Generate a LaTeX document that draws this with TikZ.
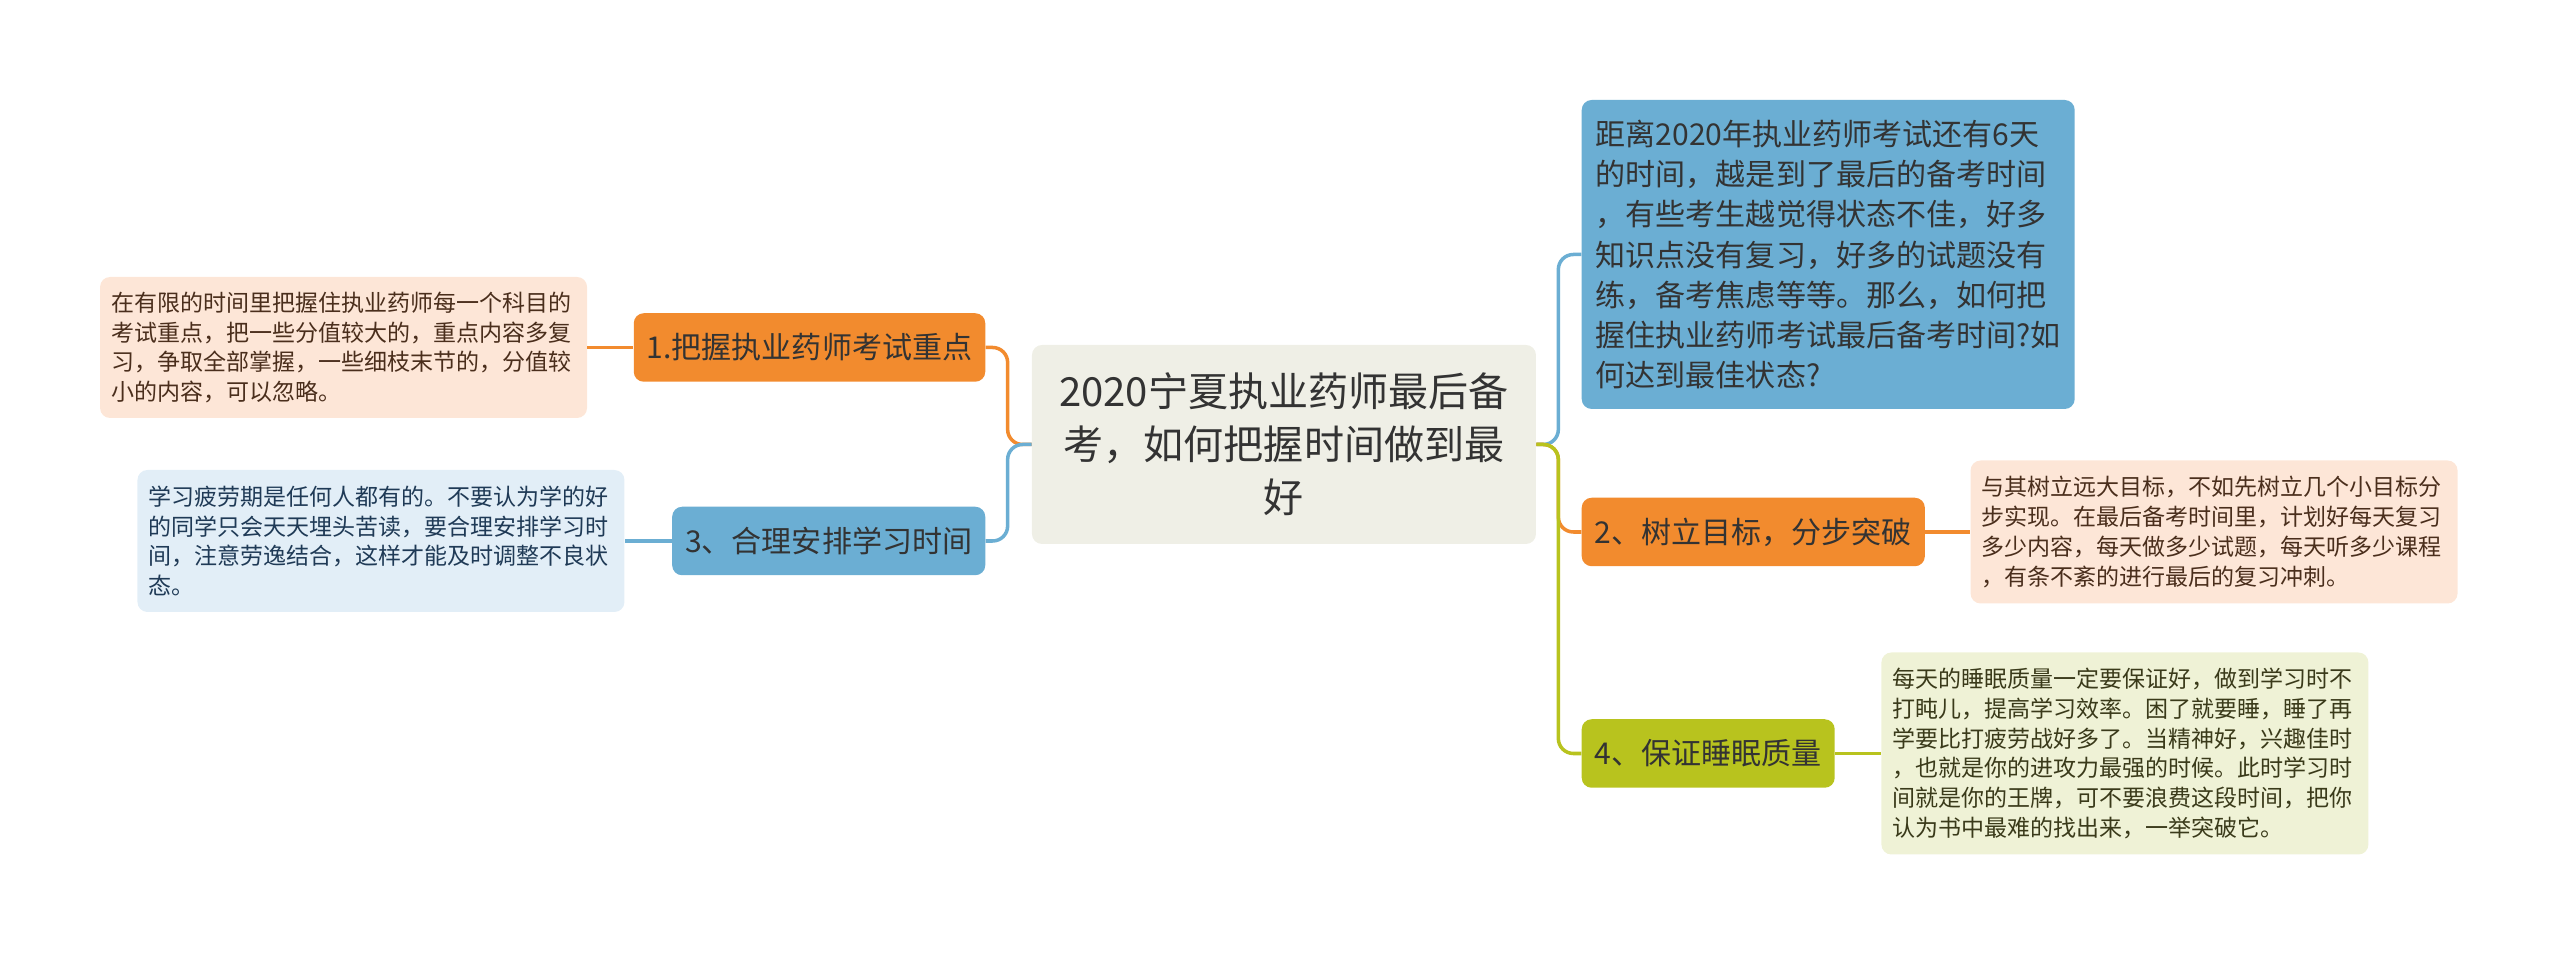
\documentclass[tikz,border=0pt]{standalone}
\usepackage{xcolor}
\usepackage{fontspec}
\setmainfont{Noto Sans CJK SC}
\usepackage{tikz}
\usetikzlibrary{positioning}

\definecolor{mmOrange}{HTML}{F28B2E}
\definecolor{mmBlue}{HTML}{6BAED3}
\definecolor{mmOlive}{HTML}{B8C31E}
\definecolor{titleBg}{HTML}{EFEFE6}
\definecolor{peachBg}{HTML}{FDE6D7}
\definecolor{iceBg}{HTML}{E2EEF7}
\definecolor{limeBg}{HTML}{EFF2D6}
\definecolor{textDark}{HTML}{333333}
\definecolor{peachText}{HTML}{4A2E1C}
\definecolor{iceText}{HTML}{1F3A56}
\definecolor{limeText}{HTML}{3A3A1A}

\begin{document}
\begin{tikzpicture}[
        topic/.style={rectangle, fill=titleBg, rounded corners=0.2cm, text width=9.5cm, align=center, minimum width=10.08cm, minimum height=3.98cm, text=textDark, font=\fontsize{22.8pt}{30.2pt}\selectfont},
        branch/.style={rectangle, rounded corners=0.2cm, minimum height=1.37cm, inner xsep=0.26cm, text=textDark, font=\fontsize{17.1pt}{22.8pt}\selectfont},
        note/.style={rectangle, rounded corners=0.2cm, text width=9.3cm, align=left, inner xsep=0.22cm, font=\fontsize{13.1pt}{17pt}\selectfont},
        link/.style={line width=2pt, rounded corners=0.3cm}
    ]
        \useasboundingbox (-25.68,-10.23) rectangle (25.52,8.89);

        % Nodes
        \node[topic] (title) {2020宁夏执业药师最后备\\考，如何把握时间做到最\\好};

        % Left side
        \node[branch, fill=mmOrange, left=0.92cm of title, yshift=1.94cm] (keyPoints) {1.把握执业药师考试重点};
        \node[note, fill=peachBg, text=peachText, minimum height=2.82cm, left=0.92cm of keyPoints] (keyPointsNote) {在有限的时间里把握住执业药师每一个科目的\\考试重点，把一些分值较大的，重点内容多复\\习，争取全部掌握，一些细枝末节的，分值较\\小的内容，可以忽略。};
        \node[branch, fill=mmBlue, left=0.92cm of title, yshift=-1.93cm] (studyPlan) {3、合理安排学习时间};
        \node[note, fill=iceBg, text=iceText, minimum height=2.84cm, left=0.94cm of studyPlan] (studyPlanNote) {学习疲劳期是任何人都有的。不要认为学的好\\的同学只会天天埋头苦读，要合理安排学习时\\间，注意劳逸结合，这样才能及时调整不良状\\态。};

        % Right side
        \node[branch, fill=mmBlue, text width=9.3cm, align=left, inner xsep=0.28cm, minimum height=6.18cm, right=0.9cm of title, yshift=3.8cm] (intro) {距离2020年执业药师考试还有6天\\的时间，越是到了最后的备考时间\\，有些考生越觉得状态不佳，好多\\知识点没有复习，好多的试题没有\\练，备考焦虑等等。那么，如何把\\握住执业药师考试最后备考时间?如\\何达到最佳状态?};
        \node[branch, fill=mmOrange, right=0.9cm of title, yshift=-1.75cm] (goals) {2、树立目标，分步突破};
        \node[note, fill=peachBg, text=peachText, minimum height=2.86cm, right=0.9cm of goals] (goalsNote) {与其树立远大目标，不如先树立几个小目标分\\步实现。在最后备考时间里，计划好每天复习\\多少内容，每天做多少试题，每天听多少课程\\，有条不紊的进行最后的复习冲刺。};
        \node[branch, fill=mmOlive, right=0.9cm of title, yshift=-6.18cm] (sleep) {4、保证睡眠质量};
        \node[note, fill=limeBg, text=limeText, minimum height=4.04cm, right=0.92cm of sleep] (sleepNote) {每天的睡眠质量一定要保证好，做到学习时不\\打盹儿，提高学习效率。困了就要睡，睡了再\\学要比打疲劳战好多了。当精神好，兴趣佳时\\，也就是你的进攻力最强的时候。此时学习时\\间就是你的王牌，可不要浪费这段时间，把你\\认为书中最难的找出来，一举突破它。};

        % Links
        \draw[link, mmOrange] (title.west) -- ++(-0.48,0) |- (keyPoints.east);
        \draw[link, mmBlue] (title.west) -- ++(-0.48,0) |- (studyPlan.east);
        \draw[link, mmBlue] (title.east) -- ++(0.44,0) |- (intro.west);
        \draw[link, mmOrange] (title.east) -- ++(0.44,0) |- (goals.west);
        \draw[link, mmOlive] (title.east) -- ++(0.44,0) |- (sleep.west);
        \draw[link, mmOrange] (keyPoints.west) -- (keyPointsNote.east);
        \draw[link, mmBlue] (studyPlan.west) -- (studyPlanNote.east);
        \draw[link, mmOrange] (goals.east) -- (goalsNote.west);
        \draw[link, mmOlive] (sleep.east) -- (sleepNote.west);
    \end{tikzpicture}
\end{document}
